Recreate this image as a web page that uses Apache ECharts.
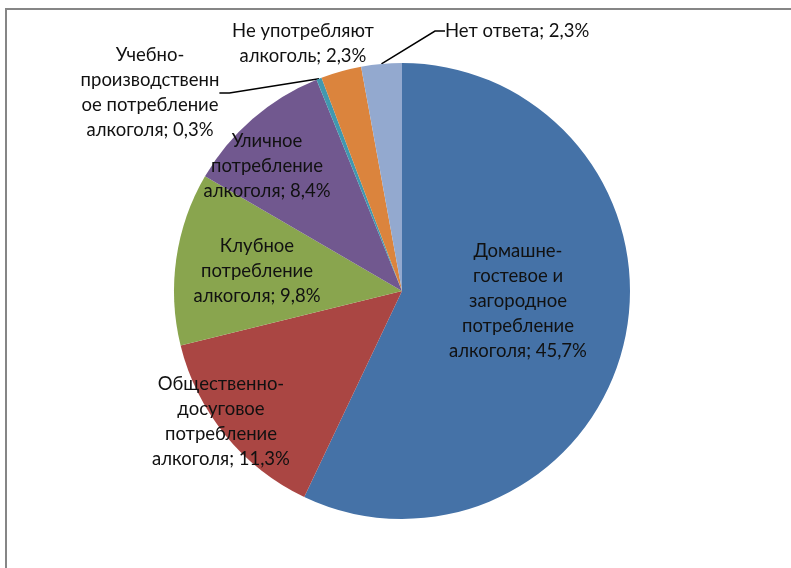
<!DOCTYPE html>
<html>
<head>
<meta charset="utf-8">
<script src="https://cdn.jsdelivr.net/npm/echarts@6/dist/echarts.min.js"></script>
<style>
  html, body { margin: 0; padding: 0; background: #fff; }
  #wrap { position: relative; width: 791px; height: 568px; }
  #frame { position: absolute; left: 5px; top: 8px; right: 0; bottom: 0;
           border-top: 2px solid #868686; border-left: 2px solid #868686; }
  #chart { position: absolute; left: 0; top: 0; width: 791px; height: 568px; }
</style>
</head>
<body>
<div id="wrap">
  <div id="frame"></div>
  <div id="chart"></div>
</div>
<script>
// категории и значения (%)
const categories = [
  'Домашне-\nгостевое и\nзагородное\nпотребление\nалкоголя',
  'Общественно-\nдосуговое\nпотребление\nалкоголя',
  'Клубное\nпотребление\nалкоголя',
  'Уличное\nпотребление\nалкоголя',
  'Учебно-\nпроизводственн\nое потребление\nалкоголя',
  'Не употребляют\nалкоголь',
  'Нет ответа'
];
const values = [45.7, 11.3, 9.8, 8.4, 0.3, 2.3, 2.3];
const colors = ['#4572A7', '#AA4643', '#89A54E', '#71588F', '#4198AF', '#DB843D', '#93A9CF'];

// положение подписей (центр блока текста)
const labelPos = [
  { x: 518, y: 301, align: 'center' },
  { x: 221, y: 422, align: 'center' },
  { x: 257, y: 271, align: 'center' },
  { x: 267, y: 166, align: 'center' },
  { x: 150, y: 93, align: 'center' },
  { x: 303, y: 44, align: 'center' },
  { x: 445, y: 31, align: 'left' }
];
const withLine = [false, false, false, false, true, false, true];

const chart = echarts.init(document.getElementById('chart'));

const data = categories.map((name, i) => ({
  name: name,
  value: values[i],
  itemStyle: { color: colors[i] },
  labelLine: { show: withLine[i] }
}));

const option = {
  animation: false,
  series: [{
    type: 'pie',
    center: [402, 291],
    radius: 228,
    startAngle: 90,
    clockwise: true,
    avoidLabelOverlap: false,
    data: data,
    itemStyle: { borderWidth: 0 },
    label: {
      show: true,
      position: 'outside',
      fontFamily: 'Lato',
      fontSize: 18.5,
      lineHeight: 25,
      color: '#111',
      align: 'center',
      formatter: (p) => p.name + '; ' + String(p.value).replace('.', ',') + '%'
    },
    labelLine: {
      show: true,
      length: 20,
      length2: 10,
      lineStyle: { color: '#000', width: 1.5 }
    },
    labelLayout: (p) => {
      const pos = labelPos[p.dataIndex];
      return { x: pos.x, y: pos.y, align: pos.align, verticalAlign: 'middle' };
    }
  }]
};
chart.setOption(option);
</script>
</body>
</html>
